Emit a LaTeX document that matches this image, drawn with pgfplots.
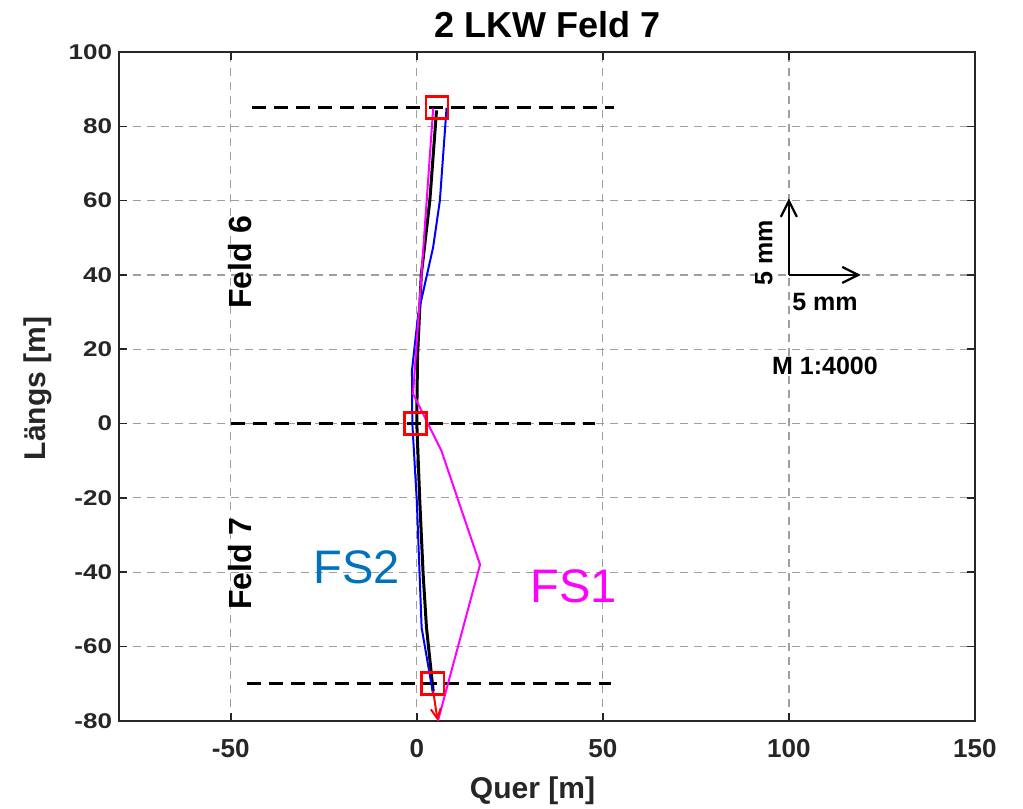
\documentclass[border=0pt]{standalone}
\usepackage{pgfplots}
\pgfplotsset{compat=1.18}
\usepackage{fontspec}
\setmainfont{Liberation Sans}
\usetikzlibrary{arrows.meta}
\definecolor{axgray}{RGB}{38,38,38}
\definecolor{fsblue}{RGB}{0,114,189}
\definecolor{mag}{RGB}{255,0,255}
\begin{document}
\begin{tikzpicture}
\begin{axis}[
 scale only axis, width=427.5pt, height=334pt,
 xmin=-80, xmax=150, ymin=-80, ymax=100,
 xtick={-50,0,50,100,150}, ytick={-80,-60,...,100},
 grid=major,
 major grid style={gray!75, line width=0.6pt, dash pattern=on 4pt off 3pt},
 tick align=inside, major tick length=4pt,
 axis line style={axgray, line width=0.8pt},
 tick style={axgray, line width=0.8pt},
 /pgf/number format/assume math mode=true,
 ticklabel style={font=\fontsize{13}{15}\selectfont\bfseries, text=axgray},
 xticklabel style={yshift=-6pt},
 yticklabel style={yscale=0.82},
 xlabel={Quer [m]}, ylabel={Längs [m]},
 xlabel style={at={(axis description cs:0.483,-0.105)}, anchor=center, font=\fontsize{15}{17}\selectfont\bfseries, text=axgray},
 ylabel style={at={(axis description cs:-0.0947,0.497)}, anchor=center, font=\fontsize{15}{17}\selectfont\bfseries, text=axgray},
 title={2 LKW Feld 7},
 title style={at={(axis description cs:0.5006,1.0404)}, anchor=center, yshift=-6pt, font=\fontsize{18}{20}\selectfont\bfseries},
 clip=true,
]
% horizontal field boundaries
\addplot[black, line width=1.5pt, dash pattern=on 7pt off 4pt] coordinates {(-44.2,85) (53,85)};
\addplot[black, line width=1.5pt, dash pattern=on 7pt off 4pt] coordinates {(-50,0) (48,0)};
\addplot[black, line width=1.5pt, dash pattern=on 7pt off 4pt] coordinates {(-45.6,-70) (52.3,-70)};
% black line
\addplot[black, line width=1.5pt] coordinates {(5.3,84.3) (3.5,60) (1.2,40) (0.2,18) (0,2.7) (0,0) (0.8,-20.8) (1.7,-40.5) (2.6,-54.9) (4.4,-72)};
% blue line
\addplot[blue, line width=1pt] coordinates {(8,85) (6.2,60) (4.4,47.5) (0.4,29.6) (-1.3,14.3) (-1.2,0) (0,-20.8) (1.3,-55) (4.4,-72.9)};
% magenta line
\addplot[mag, line width=1pt] coordinates {(4.4,84.8) (-1,8) (6.6,-7.3) (17,-38) (5.7,-80)};
% red arrow
\addplot[red, line width=1pt, -{Straight Barb[length=5pt,width=5pt]}] coordinates {(4.4,-72) (5.6,-80)};
% red squares
\addplot[only marks, mark=square, mark size=5.5pt, red, line width=1.3pt] coordinates {(5.4,85) (-0.3,0) (4.3,-70)};
% scale arrows
\addplot[black, line width=1.1pt, -{Straight Barb[length=8pt,width=8pt]}] coordinates {(100,40) (100,60.6)};
\addplot[black, line width=1.1pt, -{Straight Barb[length=8pt,width=8pt]}] coordinates {(100,40) (119.3,40)};
% texts
\node[rotate=90, font=\fontsize{16}{18}\selectfont\bfseries] at (axis cs:-47.5,43.4) {Feld 6};
\node[rotate=90, font=\fontsize{16}{18}\selectfont\bfseries] at (axis cs:-47.5,-37.7) {Feld 7};
\node[font=\fontsize{23.5}{26}\selectfont, text=fsblue] at (axis cs:-16.1,-38.8) {FS2};
\node[font=\fontsize{23.5}{26}\selectfont, text=mag] at (axis cs:42.1,-43.7) {FS1};
\node[rotate=90, font=\fontsize{12.5}{14}\selectfont\bfseries] at (axis cs:93.3,46) {5 mm};
\node[font=\fontsize{12.5}{14}\selectfont\bfseries] at (axis cs:109.7,32.6) {5 mm};
\node[font=\fontsize{12.5}{14}\selectfont\bfseries] at (axis cs:109.7,15.4) {M 1:4000};
\end{axis}
\pgfresetboundingbox
\path (-59.5pt,-44pt) rectangle (451.5pt,360pt);
\end{tikzpicture}
\end{document}
